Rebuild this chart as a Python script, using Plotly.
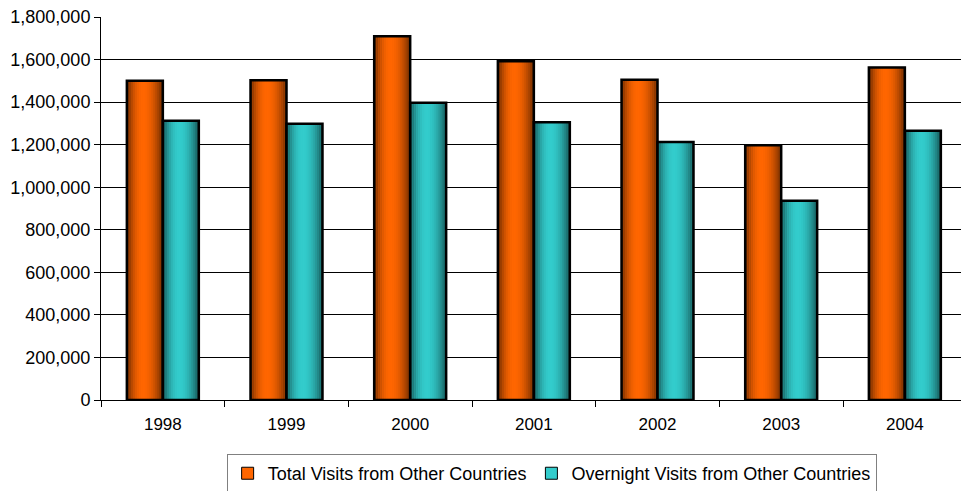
import plotly.graph_objects as go

# Visitor data by year
years = ["1998", "1999", "2000", "2001", "2002", "2003", "2004"]
total_visits = [1500000, 1503000, 1710000, 1592000, 1505000, 1197000, 1563000]
overnight_visits = [1312000, 1298000, 1397000, 1305000, 1212000, 937000, 1265000]
series_names = ["Total Visits from Other Countries", "Overnight Visits from Other Countries"]
y_ticks = [0, 200000, 400000, 600000, 800000, 1000000, 1200000, 1400000, 1600000, 1800000]

FONT = "Arial, Liberation Sans, sans-serif"
BAR_W = 0.291          # width of a single bar in category units
N_SLICES = 18          # vertical strips used to shade each bar like a cylinder
PEAK = 0.45            # position of the highlight across the bar

series = [
    (series_names[0], total_visits, (255, 102, 0), -BAR_W),
    (series_names[1], overnight_visits, (51, 204, 204), 0.0),
]


def shade(rgb, f):
    return "rgb(%d,%d,%d)" % tuple(int(round(c * f)) for c in rgb)


def brightness(t):
    # dark at both edges, bright band a little left of centre
    d = (PEAK - t) / PEAK if t < PEAK else (t - PEAK) / (1 - PEAK)
    return 1.0 - 0.6 * d ** 2


fig = go.Figure()

for name, vals, rgb, off in series:
    # solid base bar (also provides the legend entry)
    fig.add_trace(go.Bar(
        x=years, y=vals, name=name, width=BAR_W, offset=off,
        marker=dict(color=shade(rgb, 1.0), line=dict(color="black", width=1)),
        showlegend=True, hoverinfo="skip",
    ))
    # shaded strips
    step = BAR_W / N_SLICES
    for i in range(N_SLICES):
        t = (i + 0.5) / N_SLICES
        fig.add_trace(go.Bar(
            x=years, y=vals, width=step * 1.1, offset=off + i * step,
            marker=dict(color=shade(rgb, brightness(t)), line=dict(width=0)),
            showlegend=False, hoverinfo="skip",
        ))
    # black outline on top
    fig.add_trace(go.Bar(
        x=years, y=vals, width=BAR_W, offset=off,
        marker=dict(color="rgba(0,0,0,0)", line=dict(color="black", width=2.5)),
        showlegend=False, hoverinfo="skip",
    ))

plot_px = 961 - 101
cat_px = 123.67

fig.update_layout(
    width=961, height=491,
    margin=dict(l=101, r=0, t=17, b=91, autoexpand=False),
    paper_bgcolor="white", plot_bgcolor="white",
    barmode="overlay",
    font=dict(family=FONT, size=16, color="black"),
    showlegend=True,
    legend=dict(
        orientation="h", x=0.524, xanchor="center", y=-0.192, yanchor="middle",
        bordercolor="#808080", borderwidth=1, bgcolor="white",
        font=dict(family=FONT, size=18, color="black"),
        itemwidth=30, tracegroupgap=0,
    ),
    xaxis=dict(
        type="category", range=[-0.5, -0.5 + plot_px / cat_px],
        showgrid=False, showline=True, linecolor="black", linewidth=1,
        ticks="outside", tickson="boundaries", ticklen=6, tickcolor="black",
        ticklabelstandoff=9,
        tickfont=dict(family=FONT, size=17, color="black"),
        fixedrange=True,
    ),
    yaxis=dict(
        range=[0, 1800000], tickvals=y_ticks, tickformat=",d",
        showgrid=True, gridcolor="black", gridwidth=1,
        showline=True, linecolor="black", linewidth=1,
        ticks="outside", ticklen=6, tickcolor="black",
        tickfont=dict(family=FONT, size=18, color="black"),
        zeroline=False, fixedrange=True,
    ),
)

fig.write_html("out.html")
